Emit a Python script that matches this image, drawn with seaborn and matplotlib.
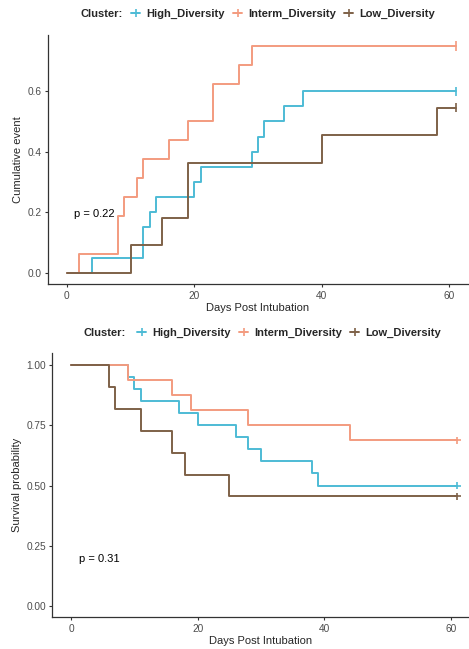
import numpy as np
import pandas as pd
import matplotlib
matplotlib.use("Agg")
import matplotlib.pyplot as plt
from matplotlib.lines import Line2D
import seaborn as sns

# ---------------- data ----------------
groups = ["High_Diversity", "Interm_Diversity", "Low_Diversity"]
colors = ["#4DBBD5", "#F39B7F", "#7E6148"]

# Top panel: cumulative event (step curves)
top_high_t = [0, 4, 12, 13, 14, 20, 21, 29, 30, 31, 34, 37, 61]
top_high_v = [0, 0.05, 0.15, 0.20, 0.25, 0.30, 0.35, 0.40, 0.45, 0.50, 0.55, 0.60, 0.60]
top_interm_t = [0, 2, 8, 9, 11, 12, 16, 19, 23, 27, 29, 61]
top_interm_v = [0, 0.0625, 0.1875, 0.25, 0.3125, 0.375, 0.4375, 0.50, 0.625, 0.6875, 0.75, 0.75]
top_low_t = [0, 10, 15, 19, 40, 58, 61]
top_low_v = [0, 0.0909, 0.1818, 0.3636, 0.4545, 0.5455, 0.5455]

# Bottom panel: survival probability
bot_high_t = [0, 9, 10, 11, 17, 20, 26, 28, 30, 38, 39, 61]
bot_high_v = [1.0, 0.95, 0.90, 0.85, 0.80, 0.75, 0.70, 0.65, 0.60, 0.55, 0.50, 0.50]
bot_interm_t = [0, 9, 16, 19, 28, 44, 61]
bot_interm_v = [1.0, 0.9375, 0.875, 0.8125, 0.75, 0.6875, 0.6875]
bot_low_t = [0, 6, 7, 11, 16, 18, 25, 61]
bot_low_v = [1.0, 0.9091, 0.8182, 0.7273, 0.6364, 0.5455, 0.4545, 0.4545]

top_p = "p = 0.22"
bot_p = "p = 0.31"

def make_df(ts, vs):
    frames = []
    for g, t, v in zip(groups, ts, vs):
        frames.append(pd.DataFrame({"time": t, "value": v, "Cluster": g}))
    return pd.concat(frames, ignore_index=True)

top_df = make_df([top_high_t, top_interm_t, top_low_t], [top_high_v, top_interm_v, top_low_v])
bot_df = make_df([bot_high_t, bot_interm_t, bot_low_t], [bot_high_v, bot_interm_v, bot_low_v])

# ---------------- style ----------------
sns.set_theme(style="ticks")
plt.rcParams["font.family"] = ["Liberation Sans", "DejaVu Sans"]
plt.rcParams["axes.linewidth"] = 0.9
plt.rcParams["axes.edgecolor"] = "#333333"

W, H = 469, 649
fig = plt.figure(figsize=(W / 100, H / 100), dpi=100)

palette = dict(zip(groups, colors))

def fx(px):
    return px / W

def fy(py):
    return 1 - py / H

ax1 = fig.add_axes([fx(47.7), fy(284.3), fx(468) - fx(47.7), fy(34.5) - fy(284.3)])
ax2 = fig.add_axes([fx(52.3), fy(617.3), fx(468) - fx(52.3), fy(353) - fy(617.3)])

def draw(ax, df, ylabel, yticks, ytl, ylim, xlim, marker, msize, ptext):
    sns.lineplot(data=df, x="time", y="value", hue="Cluster", palette=palette,
                 drawstyle="steps-post", estimator=None, lw=1.4, legend=False, ax=ax)
    ends = df.groupby("Cluster", as_index=False).last()
    sns.scatterplot(data=ends, x="time", y="value", hue="Cluster", palette=palette,
                    marker=marker, s=msize, linewidth=1.2, legend=False, ax=ax, zorder=5)
    ax.set_xlim(*xlim)
    ax.set_ylim(*ylim)
    ax.set_xticks([0, 20, 40, 60])
    ax.set_yticks(yticks)
    ax.set_yticklabels(ytl)
    ax.tick_params(axis="both", labelsize=7.3, labelcolor="#4D4D4D", length=2.5,
                   width=0.8, color="#333333", pad=2)
    ax.set_xlabel("Days Post Intubation", fontsize=8, labelpad=1.5)
    ax.set_ylabel(ylabel, fontsize=8, labelpad=3)
    sns.despine(ax=ax)
    ax.text(1.2, 0.194, ptext, fontsize=8, ha="left", va="center", color="black")

draw(ax1, top_df, "Cumulative event", [0, 0.2, 0.4, 0.6], ["0.0", "0.2", "0.4", "0.6"],
     (-0.0383, 0.7875), (-2.98, 62.9), "|", 45, top_p)
draw(ax2, bot_df, "Survival probability", [0, 0.25, 0.5, 0.75, 1.0],
     ["0.00", "0.25", "0.50", "0.75", "1.00"], (-0.047, 1.05), (-2.95, 62.7), "+", 25, bot_p)

def add_legend(y_px, x_title, x_leg):
    fig.text(fx(x_title), fy(y_px), "Cluster:", fontsize=8, fontweight="bold",
             ha="left", va="center")
    handles = [Line2D([], [], color=c, lw=1.4, marker="|", markersize=6, markeredgewidth=1.2)
               for c in colors]
    fig.legend(handles, groups, loc="center left", bbox_to_anchor=(fx(x_leg), fy(y_px)),
               ncol=3, frameon=False, prop={"size": 8, "weight": "bold"},
               handlelength=0.85, handletextpad=0.5, columnspacing=0.75,
               borderpad=0, borderaxespad=0)

add_legend(14, 80, 131)
add_legend(333, 83, 137)

fig.savefig("out.png", dpi=100, facecolor="white")
